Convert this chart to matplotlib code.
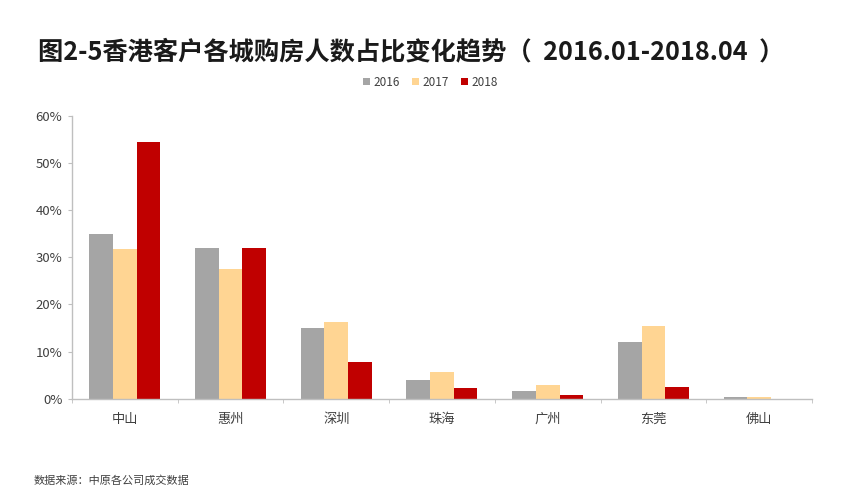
import matplotlib
matplotlib.use("Agg")
import matplotlib.pyplot as plt
import numpy as np
from matplotlib.ticker import FixedLocator, PercentFormatter

plt.rcParams['font.family'] = ['Noto Sans CJK SC', 'DejaVu Sans']

categories = ['中山', '惠州', '深圳', '珠海', '广州', '东莞', '佛山']
series_names = ['2016', '2017', '2018']
v2016 = [35.0, 32.0, 15.0, 3.9, 1.6, 12.0, 0.5]
v2017 = [31.7, 27.5, 16.2, 5.8, 2.9, 15.5, 0.4]
v2018 = [54.5, 31.9, 7.9, 2.3, 0.9, 2.5, 0.0]
colors = ['#A5A5A5', '#FFD593', '#C00000']

fig = plt.figure(figsize=(8.52, 4.98), dpi=100)
ax = fig.add_axes([0.0845, 0.199, 0.8685, 0.569])

x = np.arange(len(categories))
w = 0.224
for i, (vals, name, c) in enumerate(zip([v2016, v2017, v2018], series_names, colors)):
    ax.bar(x + (i - 1) * w, vals, width=w, color=c, label=name, zorder=2)

ax.set_xlim(-0.5, len(categories) - 0.5)
ax.set_ylim(0, 60)
ax.set_yticks(np.arange(0, 61, 10))
ax.yaxis.set_major_formatter(PercentFormatter(decimals=0))
ax.set_xticks(x)
ax.set_xticklabels(categories)
ax.xaxis.set_minor_locator(FixedLocator(np.arange(-0.5, len(categories), 1.0)))
ax.tick_params(axis='x', which='major', length=0, pad=10, labelsize=9.5, labelcolor='#404040')
ax.tick_params(axis='x', which='minor', length=3, color='#BFBFBF', direction='out')
ax.tick_params(axis='y', which='major', length=3, color='#BFBFBF', labelsize=9.5, labelcolor='#404040', pad=4)

for s in ['top', 'right']:
    ax.spines[s].set_visible(False)
for s in ['left', 'bottom']:
    ax.spines[s].set_color('#BFBFBF')
    ax.spines[s].set_linewidth(1.0)

fig.text(0.483, 0.895, '图2-5香港客户各城购房人数占比变化趋势（  2016.01-2018.04  ）',
         ha='center', va='center', fontsize=18.2, fontweight='bold', color='#1a1a1a')

leg = fig.legend(loc='center', bbox_to_anchor=(0.505, 0.835), ncol=3, frameon=False,
                 fontsize=8.5, handlelength=0.6, handleheight=0.6, handletextpad=0.3,
                 columnspacing=1.0)
for t in leg.get_texts():
    t.set_color('#404040')

fig.text(0.039, 0.036, '数据来源：中原各公司成交数据', ha='left', va='center',
         fontsize=8, color='#404040')

fig.savefig('out.png', dpi=100, facecolor='white')
